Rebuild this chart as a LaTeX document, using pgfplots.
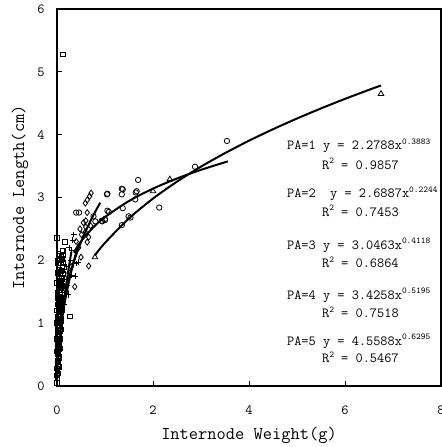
\documentclass[border=0pt]{standalone}
\usepackage{pgfplots}
\pgfplotsset{compat=1.18}
\newcommand{\annfont}{\fontsize{14}{16}\ttfamily}
\newcommand{\supx}[1]{\raisebox{5.5bp}{\fontsize{9}{9}\ttfamily #1}}
\begin{document}
\begin{tikzpicture}
\path[use as bounding box] (-57bp,-61bp) rectangle (385bp,386bp);
\begin{axis}[
  scale only axis, width=384bp, height=377bp,
  at={(0,0)}, anchor=south west,
  xmin=0, xmax=8, ymin=0, ymax=6,
  xtick={0,2,4,6,8}, ytick={0,1,2,3,4,5,6},
  tick align=inside, xtick pos=bottom, ytick pos=left,
  major tick length=5bp,
  axis line style={line width=1.3pt},
  tick style={line width=1pt, black},
  /pgf/number format/assume math mode=true,
  ticklabel style={font=\fontsize{14}{14}\ttfamily},
  xticklabel style={yshift=-16bp},
  yticklabel style={xshift=-9bp},
  xlabel={Internode Weight(g)},
  ylabel={Internode Length(cm)},
  label style={font=\fontsize{18}{18}\ttfamily},
  xlabel style={at={(axis description cs:0.5,0)}, anchor=center, yshift=-49bp},
  ylabel style={at={(axis description cs:0,0.5)}, anchor=center, rotate=0, yshift=37bp},
  clip=false,
]
% PA=5 squares
\addplot[only marks, mark=square, mark size=2.3pt, mark options={line width=0.9pt, black}] coordinates {
(0.12,5.28)(0.0,2.36)(0.13,2.16)(0.17,2.29)(0.0,1.64)(0.27,1.11)(0.0,0.17)(0.0,0.05)
(0.01,0.25)(0.02,0.32)(0.01,0.40)(0.03,0.45)(0.02,0.52)(0.04,0.58)(0.01,0.62)(0.03,0.68)
(0.05,0.72)(0.02,0.78)(0.04,0.83)(0.06,0.88)(0.03,0.92)(0.05,0.97)(0.07,1.02)(0.04,1.06)
(0.06,1.12)(0.08,1.17)(0.05,1.21)(0.07,1.26)(0.09,1.31)(0.06,1.35)(0.08,1.40)(0.10,1.45)
(0.07,1.50)(0.09,1.55)(0.11,1.60)(0.08,1.66)(0.10,1.72)(0.12,1.78)(0.09,1.84)(0.11,1.90)
(0.13,1.96)(0.10,2.02)(0.12,2.08)(0.02,0.35)(0.03,0.55)(0.02,0.70)(0.03,0.85)(0.04,1.00)
(0.05,1.15)(0.06,1.30)(0.07,1.42)(0.08,1.58)(0.09,1.70)(0.01,0.12)(0.02,0.20)(0.01,0.95)
(0.02,1.10)(0.03,1.25)(0.04,1.38)(0.05,1.52)(0.06,1.65)(0.07,1.80)(0.08,1.95)(0.02,1.40)
(0.03,1.55)(0.04,1.70)(0.05,1.85)(0.06,2.00)(0.03,2.10)(0.04,0.30)(0.05,0.45)(0.06,0.60)
(0.07,0.75)(0.08,0.90)(0.09,1.05)(0.10,1.20)(0.11,1.35)(0.01,1.80)(0.02,1.95)
(0.00,0.28)(0.01,0.50)(0.00,0.75)(0.02,0.88)(0.01,1.02)(0.00,1.20)(0.02,1.30)(0.01,1.48)
(0.03,1.62)(0.00,1.00)(0.01,0.82)(0.03,0.38)(0.04,0.65)(0.05,0.80)(0.06,0.95)(0.07,1.10)
(0.08,1.25)(0.09,1.40)(0.03,1.15)(0.04,1.28)(0.05,1.42)(0.06,1.55)(0.07,1.68)(0.08,1.82)
(0.09,2.05)(0.11,2.15)(0.05,2.08)(0.02,2.00)(0.04,1.95)(0.00,0.55)(0.02,0.60)(0.03,0.75)
};
% PA=4 plus
\addplot[only marks, mark=+, mark size=2.8pt, mark options={line width=0.9pt, black}] coordinates {
(0.35,2.41)(0.33,2.32)(0.44,1.97)(0.31,1.76)(0.38,1.75)(0.41,1.95)(0.25,2.20)(0.20,1.90)
(0.15,1.70)(0.18,1.55)(0.12,1.40)(0.10,1.20)(0.14,1.30)(0.08,1.00)(0.06,0.85)(0.05,0.70)
(0.09,1.10)(0.22,1.60)(0.28,2.00)(0.16,1.85)(0.07,0.60)(0.04,0.50)(0.30,2.15)(0.24,1.45)(0.11,1.60)
};
% PA=3 diamonds
\addplot[only marks, mark=diamond, mark size=3pt, mark options={line width=0.8pt, black}] coordinates {
(0.66,1.91)(0.37,1.58)(0.71,3.07)(0.68,3.02)(0.63,2.96)(0.59,2.91)(0.63,2.76)(0.60,2.63)
(0.60,2.53)(0.59,2.45)(0.66,2.37)(0.63,2.29)(0.51,2.41)(0.45,2.20)(0.50,2.05)(0.40,2.30)
(0.55,2.60)(0.30,1.90)(0.25,1.80)(0.20,1.50)(0.48,2.50)(0.70,2.55)
};
% PA=2 circles
\addplot[only marks, mark=o, mark size=2.7pt, mark options={line width=0.8pt, black}] coordinates {
(1.69,3.28)(1.05,3.06)(1.37,3.13)(1.35,3.05)(1.64,3.08)(1.66,3.10)(1.63,2.97)(1.05,2.79)
(1.37,2.83)(1.49,2.70)(1.53,2.68)(1.35,2.56)(1.00,2.66)(0.93,2.63)(2.13,2.84)(2.875,3.49)
(3.54,3.90)(1.04,3.05)(1.35,3.14)(0.46,2.76)(0.40,2.76)(0.76,2.70)(0.80,2.62)(0.94,2.62)
(1.08,2.77)(1.00,2.64)
};
% PA=1 triangles
\addplot[only marks, mark=triangle, mark size=3.2pt, mark options={line width=0.8pt, black}] coordinates {
(0.79,2.05)(2.00,3.10)(2.35,3.29)(6.75,4.65)
};
% fitted power curves (values from the printed equations)
\addplot[no marks, smooth, line width=2pt, black] coordinates {
(0.79,2.0795)(1,2.2788)(1.5,2.6674)(2,2.9827)(2.5,3.2528)(3,3.4911)(3.5,3.7064)(4,3.9038)
(4.5,4.0865)(5,4.2572)(5.5,4.4177)(6,4.5697)(6.5,4.7137)(6.75,4.783)
};
\addplot[no marks, smooth, line width=2pt, black] coordinates {
(0.35,2.1243)(0.5,2.3016)(0.75,2.5206)(1,2.6887)(1.5,2.9448)(2,3.1412)(2.5,3.3025)(3,3.4404)(3.56,3.5751)
};
\addplot[no marks, smooth, line width=2pt, black] coordinates {
(0.15,1.3948)(0.2,1.5700)(0.3,1.8554)(0.4,2.0889)(0.5,2.2899)(0.6,2.4683)(0.7,2.6302)(0.8,2.7788)(0.9,2.9170)
};
\addplot[no marks, smooth, line width=2pt, black] coordinates {
(0.02,0.4489)(0.05,0.7226)(0.1,1.0357)(0.15,1.2786)(0.2,1.4848)(0.3,1.8328)(0.4,2.1283)(0.45,2.2627)
};
\addplot[no marks, smooth, line width=2pt, black] coordinates {
(0.005,0.1623)(0.01,0.2511)(0.02,0.3885)(0.05,0.6916)(0.1,1.0699)(0.15,1.3810)(0.2,1.6552)(0.25,1.9049)(0.3,2.1365)
};
% equations
\node[anchor=west, font=\annfont, inner sep=0pt] at (axis cs:4.79,3.825) {PA=1 y = 2.2788x\supx{0.3883}};
\node[anchor=west, font=\annfont, inner sep=0pt] at (axis cs:5.52,3.54) {R\supx{2} = 0.9857};
\node[anchor=west, font=\annfont, inner sep=0pt] at (axis cs:4.79,3.06) {PA=2\ \ y = 2.6887x\supx{0.2244}};
\node[anchor=west, font=\annfont, inner sep=0pt] at (axis cs:5.52,2.79) {R\supx{2} = 0.7453};
\node[anchor=west, font=\annfont, inner sep=0pt] at (axis cs:4.79,2.24) {PA=3 y = 3.0463x\supx{0.4118}};
\node[anchor=west, font=\annfont, inner sep=0pt] at (axis cs:5.52,1.97) {R\supx{2} = 0.6864};
\node[anchor=west, font=\annfont, inner sep=0pt] at (axis cs:4.79,1.44) {PA=4 y = 3.4258x\supx{0.5195}};
\node[anchor=west, font=\annfont, inner sep=0pt] at (axis cs:5.52,1.17) {R\supx{2} = 0.7518};
\node[anchor=west, font=\annfont, inner sep=0pt] at (axis cs:4.79,0.71) {PA=5 y = 4.5588x\supx{0.6295}};
\node[anchor=west, font=\annfont, inner sep=0pt] at (axis cs:5.52,0.46) {R\supx{2} = 0.5467};
\end{axis}
\end{tikzpicture}
\end{document}
